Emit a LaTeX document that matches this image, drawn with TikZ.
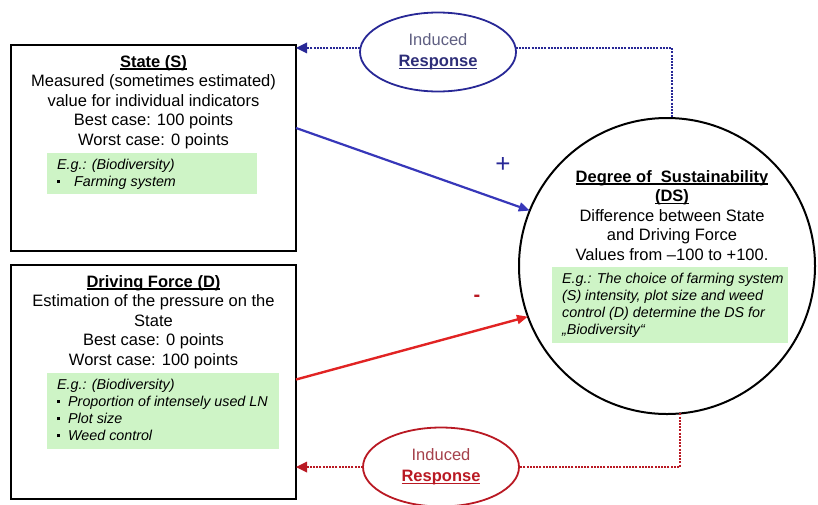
\documentclass[tikz,border=0pt]{standalone}
\usepackage{fontspec}
\setmainfont{Liberation Sans}
\usetikzlibrary{arrows.meta,shapes.geometric}
\definecolor{gbox}{RGB}{206,244,198}
\definecolor{navy}{RGB}{40,40,150}
\definecolor{navytxt}{RGB}{45,45,120}
\definecolor{grayblue}{RGB}{95,95,130}
\definecolor{arrblue}{RGB}{55,55,185}
\definecolor{arrred}{RGB}{225,35,35}
\definecolor{dred}{RGB}{185,25,35}
\definecolor{redtxt}{RGB}{165,65,75}
\newcommand\undl[1]{\setbox0=\hbox{#1}\rlap{\rule[-2.6pt]{\wd0}{1.3pt}}\box0}
\newcommand\gbul[1]{\makebox[#1][l]{\rule[3.5pt]{3pt}{3pt}}}
\tikzset{
  box/.style={draw, line width=2pt, minimum width=285pt, outer sep=0pt, inner sep=0pt},
  txt/.style={font=\fontsize{16.5}{19.5}\selectfont, align=center, inner sep=0pt, anchor=north},
  gtxt/.style={font=\fontsize{14.3}{17}\selectfont\itshape, align=left, inner sep=0pt, anchor=north west},
  gbg/.style={fill=gbox, draw=none, inner sep=0pt, outer sep=0pt, anchor=north west},
  resp/.style={ellipse, line width=1.8pt, minimum width=156pt, minimum height=79pt, inner sep=0pt, outer sep=0pt, align=center, font=\fontsize{16.5}{21}\selectfont},
  dotline/.style={line width=2.2pt, dash pattern=on 2pt off 1.2pt},
  tip/.style={-{Triangle[length=11pt,width=11pt,line width=0pt]}},
}
\begin{document}
\begin{tikzpicture}[x=1pt,y=-1pt]
\useasboundingbox (0,0) rectangle (818,504);
% boxes
\node[box, minimum height=206pt] (state) at (153.5,148) {};
\node[box, minimum height=234pt] (df) at (153.5,382) {};
\node[circle, draw, line width=2pt, minimum size=296pt, inner sep=0pt, outer sep=0pt] (ds) at (667,266) {};
% green backgrounds
\node[gbg, minimum width=210pt, minimum height=41pt] (sg) at (47,153) {};
\node[gbg, minimum width=232pt, minimum height=76pt] (dg) at (47,373) {};
\node[gbg, minimum width=236pt, minimum height=76pt] (dsg) at (552,267) {};
% texts
\node[txt] (stxt) at (153.5,55) {\undl{\textbf{State (S)}}\\Measured (sometimes estimated)\\value for individual indicators\\Best case: 100 points\\Worst case: 0 points};
\node[gtxt] (sgtxt) at (57,159) {E.g.: (Biodiversity)\\\gbul{17pt}Farming system};
\node[txt] (dtxt) at (153.5,275) {\undl{\textbf{Driving Force (D)}}\\Estimation of the pressure on the\\State\\Best case: 0 points\\Worst case: 100 points};
\node[gtxt] (dgtxt) at (57,379) {E.g.: (Biodiversity)\\\gbul{11pt}Proportion of intensely used LN\\\gbul{11pt}Plot size\\\gbul{11pt}Weed control};
\node[txt] (dstxt) at (672,170) {\undl{\textbf{Degree of\ \ Sustainability}}\\\undl{\textbf{(DS)}}\\Difference between State\\and Driving Force\\Values from –100 to +100.};
\node[gtxt] (dsgtxt) at (562,273) {E.g.: The choice of farming system\\(S) intensity, plot size and weed\\control (D) determine the DS for\\„Biodiversity“};
% response ellipses
\node[resp, draw=navy] (blueell) at (438,52) {\textcolor{grayblue}{Induced}\\\textcolor{navytxt}{\undl{\textbf{Response}}}};
\node[resp, draw=dred] (redell) at (441,467) {\textcolor{redtxt}{Induced}\\\textcolor{dred}{\undl{\textbf{Response}}}};
% solid arrows
\draw[arrblue, line width=2.2pt, -{Triangle[length=11pt,width=9pt]}] (state.8) -- (ds.158);
\draw[arrred, line width=2.4pt, -{Triangle[length=11pt,width=9pt]}] (df.1) -- (ds.200);
\node[text=navy, font=\fontsize{26}{26}\selectfont, inner sep=0pt] (plus) at (503,165) {+};
\node[text=dred, font=\fontsize{20}{20}\selectfont\bfseries, inner sep=0pt] (minus) at (477,298) {-};
% dotted feedback
\draw[navy, dotline] (blueell.3) -| (ds.88);
\draw[navy, dotline, tip] (blueell.177) -- (state.east |- blueell.177);
\draw[dred, dotline] (ds.275) |- (redell.east);
\draw[dred, dotline, tip] (redell.west) -- (df.east |- redell.west);
\end{tikzpicture}
\end{document}
